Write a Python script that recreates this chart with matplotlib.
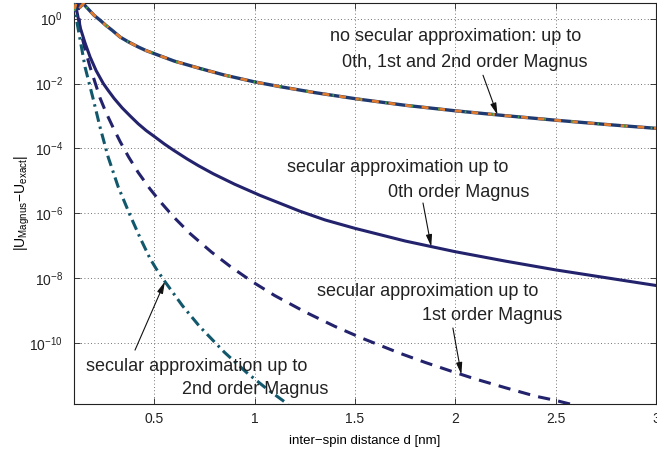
import numpy as np
import matplotlib
matplotlib.use("Agg")
import matplotlib.pyplot as plt
from matplotlib.ticker import NullLocator, FixedLocator

plt.rcParams['font.family'] = ['Liberation Sans', 'DejaVu Sans']
plt.rcParams['mathtext.fontset'] = 'custom'
plt.rcParams['mathtext.rm'] = 'Liberation Sans'

# values as log10(|U_Magnus - U_exact|)

# no secular approximation (0th, 1st and 2nd order Magnus overlap)
d_nosec = [0.10, 0.115, 0.13, 0.146, 0.17, 0.20, 0.23, 0.26, 0.29, 0.33, 0.37,
           0.42, 0.46, 0.50, 0.60, 0.73, 0.85, 1.0, 1.13, 1.3, 1.51, 1.75,
           2.0, 2.25, 2.5, 2.75, 3.0]
lg_nosec = [0.25, 0.55, 0.35, 0.46, 0.30, 0.10, -0.05, -0.215, -0.36, -0.57, -0.714,
            -0.874, -0.988, -1.08, -1.31, -1.54, -1.74, -1.95, -2.10, -2.28, -2.475, -2.67,
            -2.84, -2.99, -3.13, -3.26, -3.38]

# secular approximation, 0th order Magnus
d_sec0 = [0.10, 0.115, 0.13, 0.155, 0.18, 0.21, 0.246, 0.27, 0.30, 0.34, 0.38,
          0.42, 0.46, 0.50, 0.55, 0.595, 0.663, 0.72, 0.794, 0.9, 1.025, 1.225,
          1.35, 1.5, 1.75, 2.0, 2.25, 2.5, 2.75, 3.0]
lg_sec0 = [0.60, 0.20, -0.26, -0.75, -1.18, -1.60, -2.0, -2.21, -2.46, -2.75, -3.0,
           -3.24, -3.45, -3.63, -3.86, -4.05, -4.32, -4.53, -4.78, -5.10, -5.44, -5.93,
           -6.20, -6.46, -6.85, -7.18, -7.47, -7.74, -7.98, -8.22]

# secular approximation, 1st order Magnus
d_sec1 = [0.10, 0.12, 0.13, 0.155, 0.18, 0.23, 0.26, 0.296, 0.33, 0.372, 0.42,
          0.478, 0.53, 0.595, 0.68, 0.785, 0.88, 0.99, 1.1, 1.25, 1.4, 1.53,
          1.725, 1.85, 1.98, 2.1, 2.25, 2.4, 2.5, 2.63, 2.7]
lg_sec1 = [0.60, 0.40, -0.30, -0.95, -1.49, -2.45, -2.90, -3.37, -3.79, -4.26, -4.74,
           -5.24, -5.64, -6.10, -6.63, -7.19, -7.64, -8.11, -8.53, -9.03, -9.48, -9.83,
           -10.31, -10.59, -10.86, -11.10, -11.37, -11.63, -11.76, -11.96, -12.07]

# secular approximation, 2nd order Magnus
d_sec2 = [0.10, 0.113, 0.155, 0.197, 0.23, 0.27, 0.32, 0.379, 0.43, 0.478, 0.51,
          0.553, 0.64, 0.727, 0.85, 0.96, 1.06, 1.16, 1.2]
lg_sec2 = [0.60, -0.05, -1.49, -2.51, -3.35, -4.26, -5.18, -6.05, -6.76, -7.38, -7.71,
           -8.10, -8.84, -9.49, -10.28, -10.90, -11.40, -11.85, -12.15]

xticks = [0.5, 1, 1.5, 2, 2.5, 3]
xticklabels = ['0.5', '1', '1.5', '2', '2.5', '3']
yticks = [1e0, 1e-2, 1e-4, 1e-6, 1e-8, 1e-10]

navy = '#23226c'
teal = '#11586c'

fig = plt.figure(figsize=(6.57, 4.51), dpi=100)
ax = fig.add_axes([74 / 657, 47 / 451, 582 / 657, 401 / 451])

err_nosec = 10.0 ** np.array(lg_nosec)
err_sec0 = 10.0 ** np.array(lg_sec0)
err_sec1 = 10.0 ** np.array(lg_sec1)
err_sec2 = 10.0 ** np.array(lg_sec2)

# the three overlapping "no secular" curves
ax.plot(d_nosec, err_nosec, color='#1f3a70', lw=2.4, zorder=3)
ax.plot(d_nosec, err_nosec, color='#e07a2c', lw=2.0, dashes=(2.5, 3.5), zorder=4)
ax.plot(d_nosec, err_nosec, color='#3a9a45', lw=2.0, dashes=(0.6, 9.0), zorder=5)

ax.plot(d_sec0, err_sec0, color=navy, lw=2.2, zorder=3)
ax.plot(d_sec1, err_sec1, color=navy, lw=2.2, dashes=(4, 2.7), zorder=3)
ax.plot(d_sec2, err_sec2, color=teal, lw=2.2, dashes=(3.5, 1.6, 0.8, 1.6), zorder=3)

ax.set_yscale('log')
ax.set_xlim(0.1, 3.0)
ax.set_ylim(10 ** -11.87, 10 ** 0.48)
ax.xaxis.set_major_locator(FixedLocator(xticks))
ax.set_xticklabels(xticklabels)
ax.yaxis.set_major_locator(FixedLocator(yticks))
ax.yaxis.set_minor_locator(NullLocator())
ax.tick_params(direction='in', top=True, right=True, length=4, width=0.6,
               labelsize=10, colors='#222222')
ax.tick_params(axis='y', pad=8)
ax.tick_params(axis='x', pad=6)
ax.grid(True, which='major', linestyle=(0, (1, 3)), color='#444444', lw=0.6)
for s in ax.spines.values():
    s.set_linewidth(0.8)
    s.set_color('#222222')

ax.set_xlabel('inter\u2212spin distance d [nm]', fontsize=9.5, labelpad=6)
ax.set_ylabel(r'$\mathregular{|U_{Magnus}\!-\!U_{exact}|}$', fontsize=10)
ax.yaxis.set_label_coords(-0.072, 0.5)

arrow = dict(arrowstyle='-|>,head_length=0.7,head_width=0.18', color='#111111',
             lw=0.8, shrinkA=0, shrinkB=0)
tfont = dict(fontsize=13, color='#222222', ha='left', va='center')


def point_on(ds, lg, x):
    return x, 10 ** np.interp(x, ds, lg)


# annotations: arrow tail (d, value) -> tip on the curve
ax.annotate('', xy=point_on(d_nosec, lg_nosec, 2.21), xytext=(2.138, 10 ** -1.745), arrowprops=arrow)
ax.text(1.376, 10 ** -0.545, 'no secular approximation: up to', **tfont)
ax.text(1.435, 10 ** -1.345, '0th, 1st and 2nd order Magnus', **tfont)

ax.annotate('', xy=point_on(d_sec0, lg_sec0, 1.88), xytext=(1.839, 10 ** -5.68), arrowprops=arrow)
ax.text(1.161, 10 ** -4.575, 'secular approximation up to', **tfont)
ax.text(1.665, 10 ** -5.345, '0th order Magnus', **tfont)

ax.annotate('', xy=point_on(d_sec1, lg_sec1, 2.03), xytext=(1.988, 10 ** -9.53), arrowprops=arrow)
ax.text(1.311, 10 ** -8.42, 'secular approximation up to', **tfont)
ax.text(1.834, 10 ** -9.13, '1st order Magnus', **tfont)

ax.annotate('', xy=point_on(d_sec2, lg_sec2, 0.553), xytext=(0.404, 10 ** -10.21), arrowprops=arrow)
ax.text(0.160, 10 ** -10.73, 'secular approximation up to', **tfont)
ax.text(0.638, 10 ** -11.43, '2nd order Magnus', **tfont)

fig.savefig('out.png', dpi=100)
